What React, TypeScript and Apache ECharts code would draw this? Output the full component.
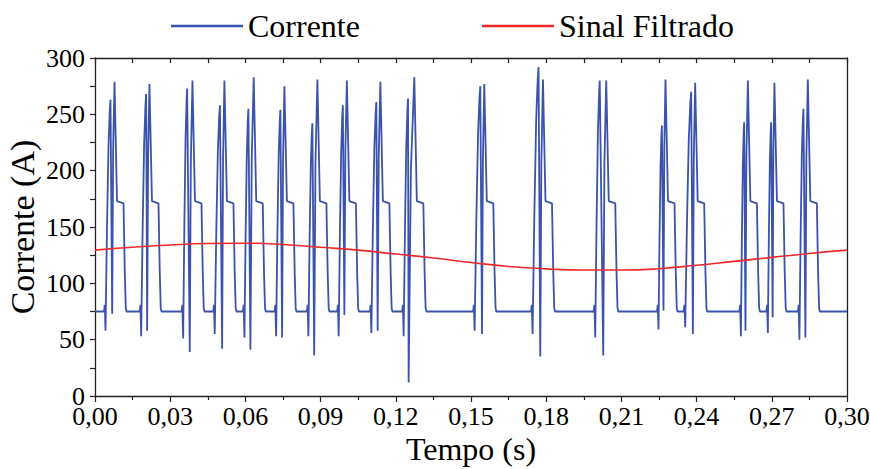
import React, { useEffect, useRef } from "react";
import * as echarts from "echarts";

// ---- Data ----
const xTickLabels = ["0,00", "0,03", "0,06", "0,09", "0,12", "0,15", "0,18", "0,21", "0,24", "0,27", "0,30"];
const yTickLabels = ["0", "50", "100", "150", "200", "250", "300"];

const baselineLevel = 75;
const plateauLevel = 172;

// per-pulse key points of the "Corrente" signal (time in s, current in A)
const dipTimes = [0.00419, 0.01842, 0.03517, 0.04777, 0.05961, 0.07225, 0.08513, 0.09721, 0.11025, 0.12313, 0.15144, 0.17456, 0.19956, 0.2248, 0.23545, 0.25766, 0.26842, 0.28102];
const dipValues = [58, 53, 51, 55, 52, 53, 53, 53, 56, 53, 58, 55, 52, 59, 61, 53, 56, 50];
const peak1Times = [0.00618, 0.02041, 0.03676, 0.04984, 0.0612, 0.07396, 0.08672, 0.09888, 0.11224, 0.12488, 0.15371, 0.17695, 0.20136, 0.22616, 0.23784, 0.25897, 0.26974, 0.28262];
const peak1Values = [263, 268, 273, 258, 255, 254, 242, 258, 261, 264, 275, 292, 280, 240, 270, 243, 243, 255];
const midTimes = [0.00686, 0.02081, 0.0378, 0.05072, 0.062, 0.07464, 0.08744, 0.09948, 0.11276, 0.12512, 0.15439, 0.17763, 0.20275, 0.22679, 0.23852, 0.25949, 0.27033, 0.28341];
const midValues = [73, 58, 39, 42, 41, 52, 36, 72, 58, 12, 55, 35, 36, 76, 55, 58, 70, 52];
const peak2Times = [0.00778, 0.02173, 0.03888, 0.05163, 0.06332, 0.07556, 0.08872, 0.10048, 0.11384, 0.12739, 0.1553, 0.17871, 0.20395, 0.22759, 0.23943, 0.26045, 0.27105, 0.28437];
const peak2Values = [279, 277, 280, 280, 283, 275, 281, 280, 279, 283, 277, 281, 280, 281, 278, 280, 278, 281];

// "Sinal Filtrado"
const filtTimes = [0, 0.015, 0.03, 0.045, 0.06, 0.075, 0.09, 0.105, 0.12, 0.135, 0.15, 0.165, 0.18, 0.195, 0.21, 0.225, 0.24, 0.255, 0.27, 0.285, 0.3];
const filtValues = [129.5, 132, 134, 135.3, 135.6, 134.5, 132, 129.5, 126, 122.5, 118.5, 115, 112.8, 111.8, 111.8, 113, 116, 119.5, 123, 126.5, 129.5];

function buildCorrente(): [number, number][] {
  const pts: [number, number][] = [[0, baselineLevel]];
  for (let i = 0; i < dipTimes.length; i++) {
    const td = dipTimes[i];
    const dv = dipValues[i];
    const t1 = peak1Times[i];
    const v1 = peak1Values[i];
    const tm = midTimes[i];
    const vm = midValues[i];
    const t2 = peak2Times[i];
    const v2 = peak2Values[i];
    pts.push([td - 0.0006, baselineLevel], [td - 0.0003, baselineLevel + 6], [td, dv]);
    const d1 = t1 - td;
    const s1 = v1 - dv;
    pts.push([td + 0.3 * d1, dv + 0.45 * s1], [td + 0.6 * d1, dv + 0.8 * s1], [td + 0.85 * d1, dv + 0.95 * s1], [t1, v1]);
    pts.push([tm, vm]);
    const d2 = t2 - tm;
    const s2 = v2 - vm;
    pts.push([tm + 0.4 * d2, vm + 0.7 * s2], [t2, v2]);
    pts.push(
      [t2 + 0.001, plateauLevel + 1],
      [t2 + 0.0036, plateauLevel - 1],
      [t2 + 0.0041, 110],
      [t2 + 0.0045, baselineLevel + 3],
      [t2 + 0.0048, baselineLevel]
    );
  }
  pts.push([0.3, baselineLevel]);
  return pts;
}

const FONT = "Liberation Serif";
const BLUE = "#3a53ad";
const RED = "#f02828";

export default function App() {
  const ref = useRef<HTMLDivElement>(null);
  useEffect(() => {
    if (!ref.current) return;
    const chart = echarts.init(ref.current, undefined, { renderer: "svg" });
    const axisColor = "#222";
    const option: any = {
      animation: false,
      backgroundColor: "#fff",
      legend: {
        top: 5,
        left: 166,
        icon: "rect",
        itemWidth: 72,
        itemHeight: 2.5,
        itemGap: 122,
        textStyle: { fontFamily: FONT, fontSize: 32, color: "#000" },
        data: [
          { name: "Corrente", itemStyle: { color: BLUE } },
          { name: "Sinal Filtrado", itemStyle: { color: RED } },
        ],
      },
      grid: { left: 95, right: 23, top: 58, bottom: 73, containLabel: false, outerBoundsMode: "none" },
      xAxis: [
        {
          type: "value",
          min: 0,
          max: 0.3,
          interval: 0.03,
          position: "bottom",
          name: "Tempo (s)",
          nameLocation: "middle",
          nameGap: 37,
          nameMoveOverlap: false,
          nameTextStyle: { fontFamily: FONT, fontSize: 32, color: "#000" },
          axisLine: { show: true, onZero: false, lineStyle: { color: axisColor, width: 1.3 } },
          axisTick: { show: true, inside: false, length: 6, lineStyle: { color: axisColor, width: 1.2 } },
          minorTick: { show: true, splitNumber: 2, length: 4, lineStyle: { color: axisColor, width: 1.2 } },
          splitLine: { show: false },
          axisLabel: {
            fontFamily: FONT,
            fontSize: 26,
            lineHeight: 18,
            color: "#000",
            margin: 11,
            formatter: (v: number) => xTickLabels[Math.round(v / 0.03)] ?? "",
          },
        },
        {
          type: "value",
          min: 0,
          max: 0.3,
          interval: 0.03,
          position: "top",
          axisLine: { show: true, onZero: false, lineStyle: { color: axisColor, width: 1.3 } },
          axisTick: { show: true, inside: true, length: 5, lineStyle: { color: axisColor, width: 1.2 } },
          minorTick: { show: true, splitNumber: 2, length: 5, lineStyle: { color: axisColor, width: 1.2 } },
          splitLine: { show: false },
          axisLabel: { show: false },
        },
      ],
      yAxis: [
        {
          type: "value",
          min: 0,
          max: 300,
          interval: 50,
          position: "left",
          name: "Corrente (A)",
          nameLocation: "middle",
          nameGap: 56,
          nameMoveOverlap: false,
          nameTextStyle: { fontFamily: FONT, fontSize: 34, color: "#000" },
          axisLine: { show: true, onZero: false, lineStyle: { color: axisColor, width: 1.3 } },
          axisTick: { show: true, inside: false, length: 5, lineStyle: { color: axisColor, width: 1.2 } },
          minorTick: { show: true, splitNumber: 2, length: 5, lineStyle: { color: axisColor, width: 1.2 } },
          splitLine: { show: false },
          axisLabel: {
            fontFamily: FONT,
            fontSize: 26,
            lineHeight: 16,
            color: "#000",
            margin: 10,
            formatter: (v: number) => yTickLabels[Math.round(v / 50)] ?? "",
          },
        },
        {
          type: "value",
          min: 0,
          max: 300,
          interval: 50,
          position: "right",
          axisLine: { show: true, onZero: false, lineStyle: { color: axisColor, width: 1.3 } },
          axisTick: { show: false },
          splitLine: { show: false },
          axisLabel: { show: false },
        },
      ],
      series: [
        {
          name: "Corrente",
          type: "line",
          xAxisIndex: 0,
          yAxisIndex: 0,
          data: buildCorrente(),
          showSymbol: false,
          symbol: "none",
          lineStyle: { color: BLUE, width: 1.8 },
          itemStyle: { color: BLUE },
          z: 2,
        },
        {
          name: "Sinal Filtrado",
          type: "line",
          xAxisIndex: 0,
          yAxisIndex: 0,
          data: filtTimes.map((t, i) => [t, filtValues[i]]),
          smooth: true,
          showSymbol: false,
          symbol: "none",
          lineStyle: { color: RED, width: 1.6 },
          itemStyle: { color: RED },
          z: 3,
        },
      ],
    };
    chart.setOption(option);
    return () => chart.dispose();
  }, []);
  return <div ref={ref} style={{ width: 870, height: 469, position: "absolute", left: 0, top: 0 }} />;
}
